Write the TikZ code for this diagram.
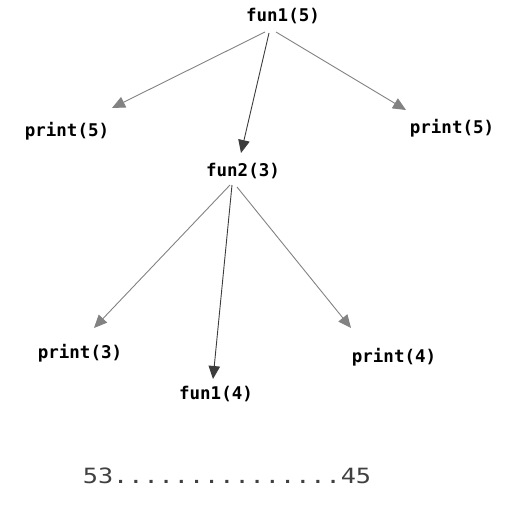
\documentclass[tikz,border=0pt]{standalone}
\usepackage{fontspec}
\setmonofont{DejaVu Sans Mono}
\usetikzlibrary{arrows.meta}
\definecolor{lightarr}{RGB}{130,130,130}
\definecolor{darkarr}{RGB}{60,60,60}
\definecolor{resulttext}{RGB}{64,64,64}
\begin{document}
\begin{tikzpicture}[x=1pt,y=-1pt,
  lbl/.style={font=\ttfamily\bfseries\fontsize{17.5}{20}\selectfont, text=black, inner sep=0pt},
  res/.style={font=\ttfamily\fontsize{21}{24}\selectfont, text=resulttext, inner sep=0pt, xscale=1.2, transform shape},
  lightarrow/.style={draw=lightarr, line width=0.9pt, -{Triangle[length=13pt,width=11.5pt]}},
  darkarrow/.style={draw=darkarr, line width=0.9pt, -{Triangle[length=13pt,width=11.5pt]}}]
\useasboundingbox (0,0) rectangle (518,508);
% labels
\node[lbl] (f15) at (283,16) {fun1(5)};
\node[lbl] (p5l) at (67,131) {print(5)};
\node[lbl] (p5r) at (452,128) {print(5)};
\node[lbl] (f23) at (243,171) {fun2(3)};
\node[lbl] (p3) at (80,353) {print(3)};
\node[lbl] (f14) at (216,394) {fun1(4)};
\node[lbl] (p4) at (394,357) {print(4)};
\node[res] (out) at (227,476) {53...............45};
% connector ends
\coordinate (s1L) at (265,32);
\coordinate (e1L) at (112,108);
\coordinate (s1M) at (269,33);
\coordinate (e1M) at (241,153);
\coordinate (s1R) at (276,32);
\coordinate (e1R) at (406,110);
\coordinate (s2L) at (230,185);
\coordinate (e2L) at (94,328);
\coordinate (s2M) at (232,185);
\coordinate (e2M) at (213,379);
\coordinate (s2R) at (237,187);
\coordinate (e2R) at (351,328);
% connectors
\draw[lightarrow] (s1L) -- (e1L);
\draw[darkarrow] (s1M) -- (e1M);
\draw[lightarrow] (s1R) -- (e1R);
\draw[lightarrow] (s2L) -- (e2L);
\draw[darkarrow] (s2M) -- (e2M);
\draw[lightarrow] (s2R) -- (e2R);
\end{tikzpicture}
\end{document}
